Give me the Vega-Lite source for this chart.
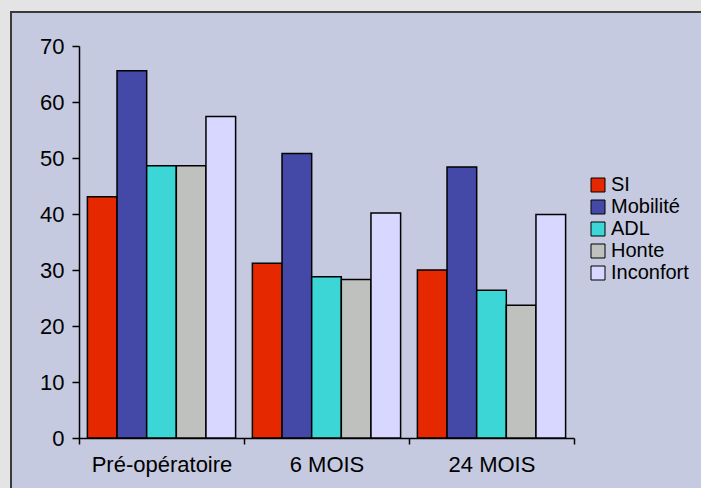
{
  "$schema": "https://vega.github.io/schema/vega-lite/v6.json",
  "width": 692,
  "height": 478,
  "autosize": "none",
  "padding": {"left": 11, "top": 12, "right": 0, "bottom": 0},
  "background": "#e4e4e4",
  "config": {
    "view": {"fill": "#c5cae0", "stroke": "#3a3a3a", "strokeWidth": 2},
    "font": "Liberation Sans"
  },
  "data": {
    "values": [
      {"periode": "Pré-opératoire", "serie": "SI", "valeur": 43.1},
      {"periode": "Pré-opératoire", "serie": "Mobilité", "valeur": 65.6},
      {"periode": "Pré-opératoire", "serie": "ADL", "valeur": 48.6},
      {"periode": "Pré-opératoire", "serie": "Honte", "valeur": 48.6},
      {"periode": "Pré-opératoire", "serie": "Inconfort", "valeur": 57.4},
      {"periode": "6 MOIS", "serie": "SI", "valeur": 31.2},
      {"periode": "6 MOIS", "serie": "Mobilité", "valeur": 50.8},
      {"periode": "6 MOIS", "serie": "ADL", "valeur": 28.8},
      {"periode": "6 MOIS", "serie": "Honte", "valeur": 28.3},
      {"periode": "6 MOIS", "serie": "Inconfort", "valeur": 40.2},
      {"periode": "24 MOIS", "serie": "SI", "valeur": 30.0},
      {"periode": "24 MOIS", "serie": "Mobilité", "valeur": 48.4},
      {"periode": "24 MOIS", "serie": "ADL", "valeur": 26.4},
      {"periode": "24 MOIS", "serie": "Honte", "valeur": 23.7},
      {"periode": "24 MOIS", "serie": "Inconfort", "valeur": 39.9}
    ]
  },
  "mark": {"type": "bar", "stroke": "#000000", "strokeWidth": 1.5},
  "encoding": {
    "x": {
      "field": "periode",
      "type": "nominal",
      "sort": ["Pré-opératoire", "6 MOIS", "24 MOIS"],
      "scale": {"range": [68, 563], "paddingInner": 0, "paddingOuter": 0},
      "axis": {
        "title": null,
        "labelAngle": 0,
        "offset": -52,
        "tickBand": "extent",
        "labelFontSize": 22,
        "labelColor": "#000000",
        "labelPadding": 10,
        "domainColor": "#000000",
        "domainWidth": 1.5,
        "tickColor": "#000000",
        "tickWidth": 1.5,
        "tickSize": 6
      }
    },
    "xOffset": {
      "field": "serie",
      "sort": ["SI", "Mobilité", "ADL", "Honte", "Inconfort"],
      "scale": {"paddingInner": 0, "paddingOuter": 0.283}
    },
    "y": {
      "field": "valeur",
      "type": "quantitative",
      "scale": {"domain": [0, 70], "range": [426, 34], "nice": false, "zero": true},
      "axis": {
        "title": null,
        "values": [0, 10, 20, 30, 40, 50, 60, 70],
        "grid": false,
        "offset": -68,
        "labelFontSize": 22,
        "labelColor": "#000000",
        "labelPadding": 8,
        "domainColor": "#000000",
        "domainWidth": 1.5,
        "tickColor": "#000000",
        "tickWidth": 1.5,
        "tickSize": 7
      }
    },
    "color": {
      "field": "serie",
      "type": "nominal",
      "scale": {
        "domain": ["SI", "Mobilité", "ADL", "Honte", "Inconfort"],
        "range": ["#e62800", "#4449a8", "#3cd6d6", "#bfc1bf", "#d7d7ff"]
      },
      "legend": {
        "title": null,
        "orient": "none",
        "legendX": 577,
        "legendY": 163,
        "padding": 0,
        "symbolType": "square",
        "symbolSize": 196,
        "symbolStrokeColor": "#000000",
        "symbolStrokeWidth": 1,
        "labelFontSize": 20,
        "labelColor": "#000000",
        "labelOffset": 3,
        "rowPadding": 2
      }
    }
  }
}
